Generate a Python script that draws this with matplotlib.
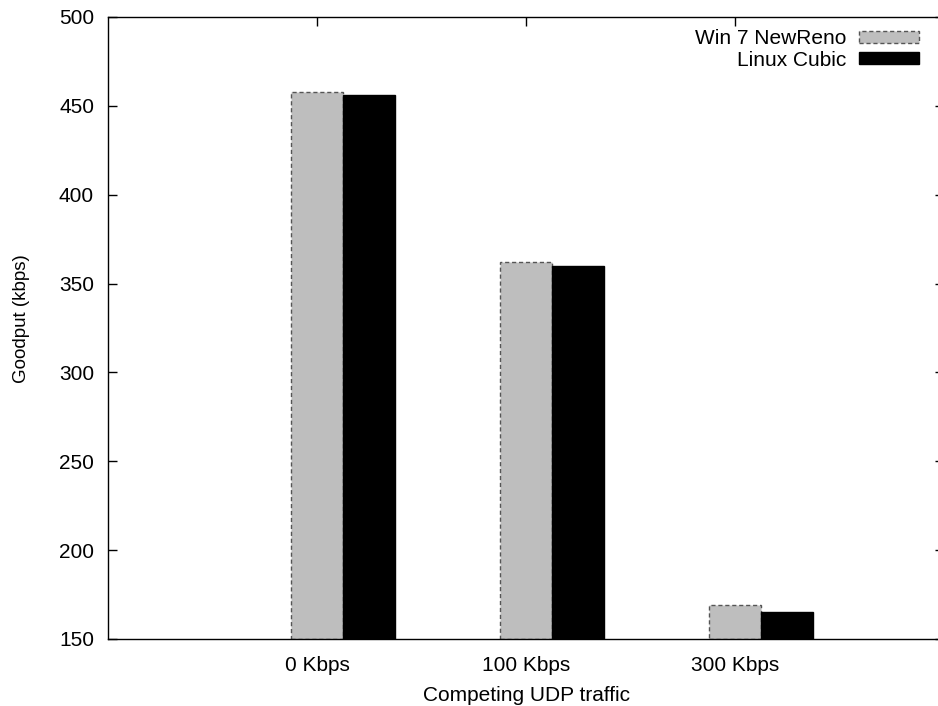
import matplotlib
matplotlib.use("Agg")
import matplotlib.pyplot as plt
import numpy as np

categories = ["0 Kbps", "100 Kbps", "300 Kbps"]
win7_newreno = [458, 362, 169]
linux_cubic = [456, 360, 165]
yticks = [150, 200, 250, 300, 350, 400, 450, 500]

plt.rcParams['font.family'] = ['Liberation Sans', 'DejaVu Sans']
plt.rcParams['font.size'] = 15

fig = plt.figure(figsize=(9.38, 7.06), dpi=100)
ax = fig.add_axes([108/938, 67/706, 836/938, 622/706])

x = np.arange(len(categories))
w = 0.25
ax.bar(x, [v - 150 for v in win7_newreno], width=w, bottom=150, color='#bebebe',
       edgecolor='#555555', linestyle=(0, (3, 2)), linewidth=1.0,
       label='Win 7 NewReno', zorder=3)
ax.bar(x + w, [v - 150 for v in linux_cubic], width=w, bottom=150, color='black',
       edgecolor='black', linewidth=1.0, label='Linux Cubic', zorder=3)

ax.set_xlim(-1, 3)
ax.set_ylim(150, 500)
ax.set_xticks(x)
ax.set_xticklabels(categories)
ax.set_yticks(yticks)

for s in ax.spines.values():
    s.set_linewidth(1.0)
    s.set_zorder(4)

ax.tick_params(axis='y', which='both', direction='in', left=True, right=True,
               length=6.5, width=1.0, pad=10)
ax.tick_params(axis='x', which='both', direction='in', top=True, bottom=False,
               length=6.5, width=1.0, pad=12)

ax.set_xlabel('Competing UDP traffic', labelpad=8)
ax.set_ylabel('Goodput (kbps)', fontsize=13.5)
ax.yaxis.set_label_coords((30-108)/836, (639-319)/622)

leg = ax.legend(loc='upper right', bbox_to_anchor=((919-108)/836, (639-29)/622),
                frameon=False, markerfirst=False, handlelength=2.9,
                handleheight=0.52, handletextpad=0.6, labelspacing=0.12,
                borderpad=0, borderaxespad=0)

fig.savefig('out.png', dpi=100)
